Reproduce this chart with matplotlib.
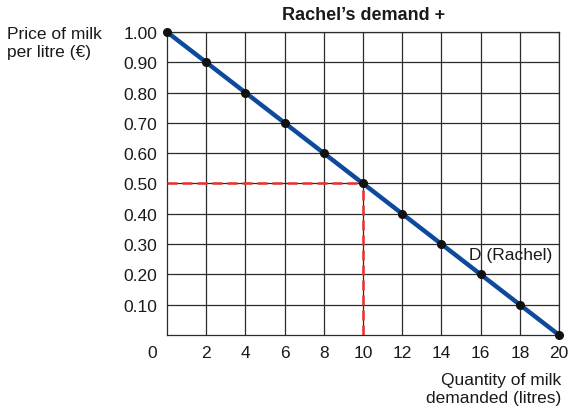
#!/usr/bin/env python3
"""Rachel's demand schedule for milk: price vs quantity demanded."""

import matplotlib
matplotlib.use("Agg")
import matplotlib.pyplot as plt

plt.rcParams["font.family"] = ["Liberation Sans", "DejaVu Sans"]

quantity = [0, 2, 4, 6, 8, 10, 12, 14, 16, 18, 20]
price = [1.00, 0.90, 0.80, 0.70, 0.60, 0.50, 0.40, 0.30, 0.20, 0.10, 0.00]
x_ticks = [2, 4, 6, 8, 10, 12, 14, 16, 18, 20]
y_ticks = [0.10, 0.20, 0.30, 0.40, 0.50, 0.60, 0.70, 0.80, 0.90, 1.00]
marked_q, marked_p = 10, 0.50

BLUE = "#0d4a9c"
RED = "#e8322f"
GRID = "#2b2b2b"
FS = 12.5

fig = plt.figure(figsize=(5.69, 4.14), dpi=100)
ax = fig.add_axes([0.2935, 0.1884, 0.689, 0.7319])

ax.set_xlim(0, 20)
ax.set_ylim(0, 1.0)
ax.set_xticks(x_ticks)
ax.set_yticks(y_ticks)
ax.set_xticklabels([str(t) for t in x_ticks])
ax.set_yticklabels([f"{t:.2f}" for t in y_ticks])
ax.tick_params(length=0, labelsize=FS, pad=7, colors="#1a1a1a")
ax.grid(True, color=GRID, linewidth=0.9)
ax.set_axisbelow(True)
for s in ax.spines.values():
    s.set_color(GRID)
    s.set_linewidth(0.9)

# zero sits at the corner, offset down-left
ax.annotate("0", xy=(0, 0), xytext=(-11, -7), textcoords="offset points",
            ha="center", va="top", fontsize=FS, color="#1a1a1a")

# red dashed guides at the marked point
ax.plot([0, marked_q], [marked_p, marked_p], color=RED, lw=1.8,
        dashes=(4, 2), zorder=3)
ax.plot([marked_q, marked_q], [0, marked_p], color=RED, lw=1.8,
        dashes=(4, 2), zorder=3)

ax.plot(quantity, price, color=BLUE, lw=3.2, zorder=4, clip_on=False)
ax.plot(quantity, price, "o", color="#111111", ms=5.5, zorder=5, clip_on=False)

ax.text(15.4, 0.265, "D (Rachel)", fontsize=FS, ha="left", va="center",
        color="#1a1a1a", zorder=6)

fig.text(0.639, 0.963, "Rachel\u2019s demand +", fontsize=13,
         fontweight="bold", ha="center", va="center", color="#1a1a1a")
fig.text(0.013, 0.894, "Price of milk\nper litre (\u20ac)", fontsize=FS,
         ha="left", va="center", linespacing=1.25, color="#1a1a1a")
fig.text(0.986, 0.06, "Quantity of milk\ndemanded (litres)", fontsize=FS,
         ha="right", va="center", linespacing=1.25, color="#1a1a1a")

fig.savefig("out.png", dpi=100)
